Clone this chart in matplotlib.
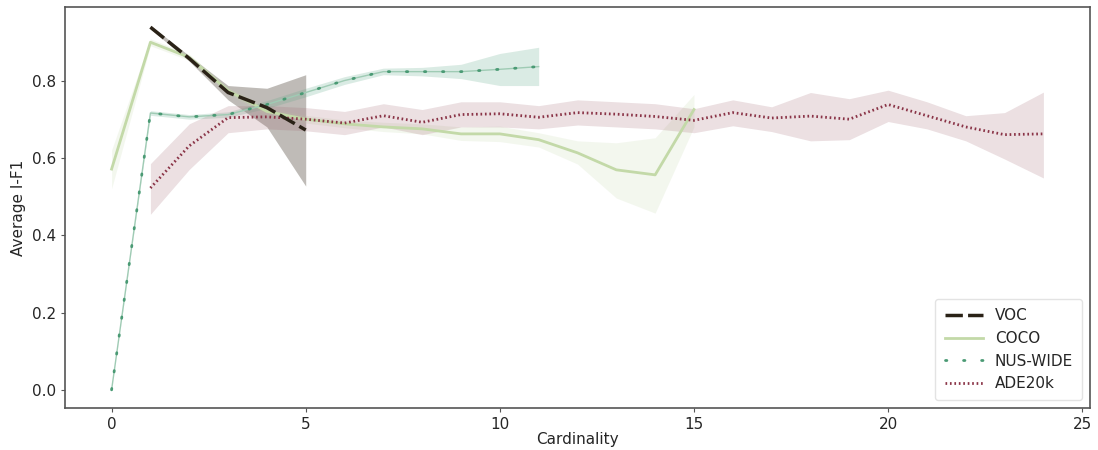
import matplotlib
matplotlib.use('Agg')
import matplotlib.pyplot as plt

# data: mean and CI band per cardinality
voc_x = [1, 2, 3, 4, 5]
voc_y = [0.938, 0.857, 0.769, 0.73, 0.672]
voc_lo = [0.933, 0.850, 0.750, 0.680, 0.527]
voc_hi = [0.943, 0.864, 0.787, 0.780, 0.815]

coco_x = list(range(0, 16))
coco_y = [0.571, 0.899, 0.86, 0.774, 0.72, 0.70, 0.688, 0.68, 0.675, 0.662,
          0.662, 0.647, 0.613, 0.569, 0.556, 0.725]
coco_lo = [0.52, 0.89, 0.852, 0.765, 0.71, 0.69, 0.678, 0.668, 0.662, 0.645,
           0.642, 0.628, 0.584, 0.496, 0.457, 0.68]
coco_hi = [0.62, 0.908, 0.868, 0.783, 0.73, 0.71, 0.698, 0.692, 0.688, 0.68,
           0.682, 0.665, 0.644, 0.639, 0.652, 0.764]

nus_x = list(range(0, 12))
nus_y = [0.0, 0.716, 0.706, 0.712, 0.738, 0.769, 0.80, 0.823, 0.823, 0.823,
         0.829, 0.836]
nus_lo = [0.0, 0.71, 0.70, 0.705, 0.728, 0.758, 0.79, 0.815, 0.812, 0.805,
          0.787, 0.787]
nus_hi = [0.0, 0.722, 0.712, 0.719, 0.748, 0.78, 0.81, 0.832, 0.834, 0.842,
          0.87, 0.886]

ade_x = list(range(1, 25))
ade_y = [0.522, 0.631, 0.704, 0.706, 0.70, 0.69, 0.709, 0.692, 0.712, 0.714,
         0.705, 0.717, 0.713, 0.707, 0.697, 0.717, 0.703, 0.708, 0.70, 0.738,
         0.709, 0.68, 0.66, 0.662]
ade_lo = [0.454, 0.57, 0.665, 0.675, 0.67, 0.66, 0.68, 0.66, 0.68, 0.68,
          0.675, 0.685, 0.68, 0.675, 0.665, 0.683, 0.668, 0.644, 0.647, 0.694,
          0.675, 0.644, 0.597, 0.548]
ade_hi = [0.585, 0.688, 0.735, 0.735, 0.73, 0.72, 0.74, 0.725, 0.745, 0.745,
          0.735, 0.75, 0.745, 0.74, 0.727, 0.75, 0.732, 0.769, 0.753, 0.775,
          0.745, 0.709, 0.717, 0.77]

plt.rcParams['font.family'] = 'DejaVu Sans'
plt.rcParams['text.color'] = '#262626'
plt.rcParams['axes.labelcolor'] = '#262626'
fig = plt.figure(figsize=(10.98, 4.5), dpi=100)
ax = fig.add_axes([0.0592, 0.0933, 0.9335, 0.891])

# bands
ax.fill_between(voc_x, voc_lo, voc_hi, color='#5f574c', alpha=0.4, lw=0)
ax.fill_between(coco_x, coco_lo, coco_hi, color='#c6d9ae', alpha=0.2, lw=0)
ax.fill_between(nus_x, nus_lo, nus_hi, color='#5aa784', alpha=0.22, lw=0)
ax.fill_between(ade_x, ade_lo, ade_hi, color='#a0646f', alpha=0.2, lw=0)

# lines
ax.plot(voc_x, voc_y, color='#2a2217', lw=2.5, ls=(0, (5, 1.5)), label='VOC', zorder=5)
ax.plot(coco_x, coco_y, color='#c3d9a8', lw=2, label='COCO', zorder=3)
ax.plot(nus_x, nus_y, color='#9fcbb4', lw=1, zorder=3)
ax.plot(nus_x, nus_y, color='#4a9a74', lw=2, ls=(0, (0.5, 6)), dash_capstyle='round',
        label='NUS-WIDE', zorder=4)
ax.plot(ade_x, ade_y, color='#8a3447', lw=2, ls=(0, (0.6, 1.0)), label='ADE20k', zorder=4)

ax.set_xlim(-1.2, 25.2)
ax.set_ylim(-0.047, 0.99)
ax.set_xticks([0, 5, 10, 15, 20, 25])
ax.set_yticks([0.0, 0.2, 0.4, 0.6, 0.8])
ax.tick_params(labelsize=11, length=3, color='#555555', labelcolor='#262626')
ax.set_xlabel('Cardinality', fontsize=11, labelpad=0)
ax.set_ylabel('Average I-F1', fontsize=11)
for s in ax.spines.values():
    s.set_color('#555555')
    s.set_linewidth(1.2)

leg = ax.legend(loc='lower right', fontsize=11, handlelength=2.5, borderpad=0.6)
leg.get_frame().set_edgecolor('#dddddd')

fig.savefig('out.png', dpi=100)
